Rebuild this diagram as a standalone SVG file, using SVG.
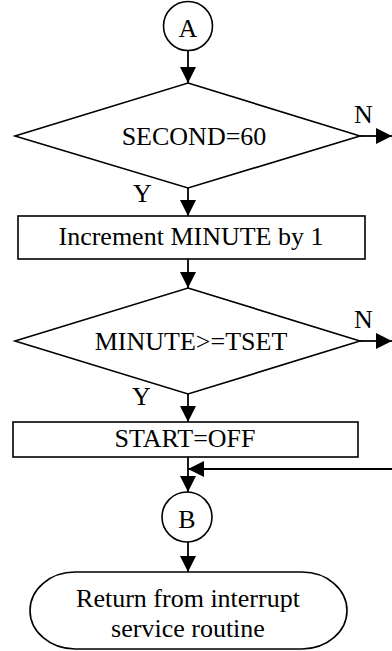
<svg xmlns="http://www.w3.org/2000/svg" width="392" height="651" viewBox="0 0 392 651" font-family="'Liberation Serif', 'Times New Roman', 'DejaVu Serif', serif" font-size="26">
<style>
.s{fill:#fff;stroke:#000;stroke-width:1.6}
.l{fill:none;stroke:#000;stroke-width:1.8}
text{font-family:'Liberation Serif','Times New Roman','DejaVu Serif',serif;font-size:26px;fill:#000}
.c{text-anchor:middle}
</style>
<defs>
<marker id="ah" markerUnits="userSpaceOnUse" markerWidth="16" markerHeight="16" viewBox="0 0 16 16" refX="16" refY="8" orient="auto">
<path d="M0,0 L16,8 L0,16 Z" fill="#000"/>
</marker>
</defs>
<g id="connectors">
<line class="l" x1="188" y1="51" x2="188" y2="83" marker-end="url(#ah)"/>
<line class="l" x1="360" y1="136" x2="392" y2="136" marker-end="url(#ah)"/>
<line class="l" x1="188" y1="188" x2="188" y2="216" marker-end="url(#ah)"/>
<line class="l" x1="188" y1="259" x2="188" y2="288" marker-end="url(#ah)"/>
<line class="l" x1="360" y1="341" x2="392" y2="341" marker-end="url(#ah)"/>
<line class="l" x1="188" y1="394" x2="188" y2="422" marker-end="url(#ah)"/>
<line class="l" x1="188" y1="457" x2="188" y2="492" marker-end="url(#ah)"/>
<line class="l" x1="392" y1="469" x2="188" y2="469" marker-end="url(#ah)"/>
<line class="l" x1="188" y1="542" x2="188" y2="572" marker-end="url(#ah)"/>
<text x="354" y="123">N</text>
<text x="133" y="202">Y</text>
<text x="354" y="328">N</text>
<text x="132" y="405">Y</text>
</g>
<g id="connA">
<circle class="s" cx="188" cy="26" r="24.5"/>
<text class="c" x="188" y="37">A</text>
</g>
<g id="dec1">
<polygon class="s" points="188,83 360,136 188,188 15,136"/>
<text class="c" x="194" y="145">SECOND=60</text>
</g>
<g id="inc">
<rect class="s" x="18" y="216" width="347" height="43"/>
<text class="c" x="191" y="245">Increment MINUTE by 1</text>
</g>
<g id="dec2">
<polygon class="s" points="188,288 360,341 188,394 15,341"/>
<text class="c" x="191" y="350">MINUTE&gt;=TSET</text>
</g>
<g id="start">
<rect class="s" x="13" y="422" width="345" height="35"/>
<text class="c" x="185" y="447">START=OFF</text>
</g>
<g id="connB">
<circle class="s" cx="187" cy="517" r="25"/>
<text class="c" x="187" y="528">B</text>
</g>
<g id="ret">
<rect class="s" x="30" y="572" width="317" height="77" rx="45" ry="38.5"/>
<text class="c" x="188" y="607">Return from interrupt</text>
<text class="c" x="188" y="637">service routine</text>
</g>
</svg>
